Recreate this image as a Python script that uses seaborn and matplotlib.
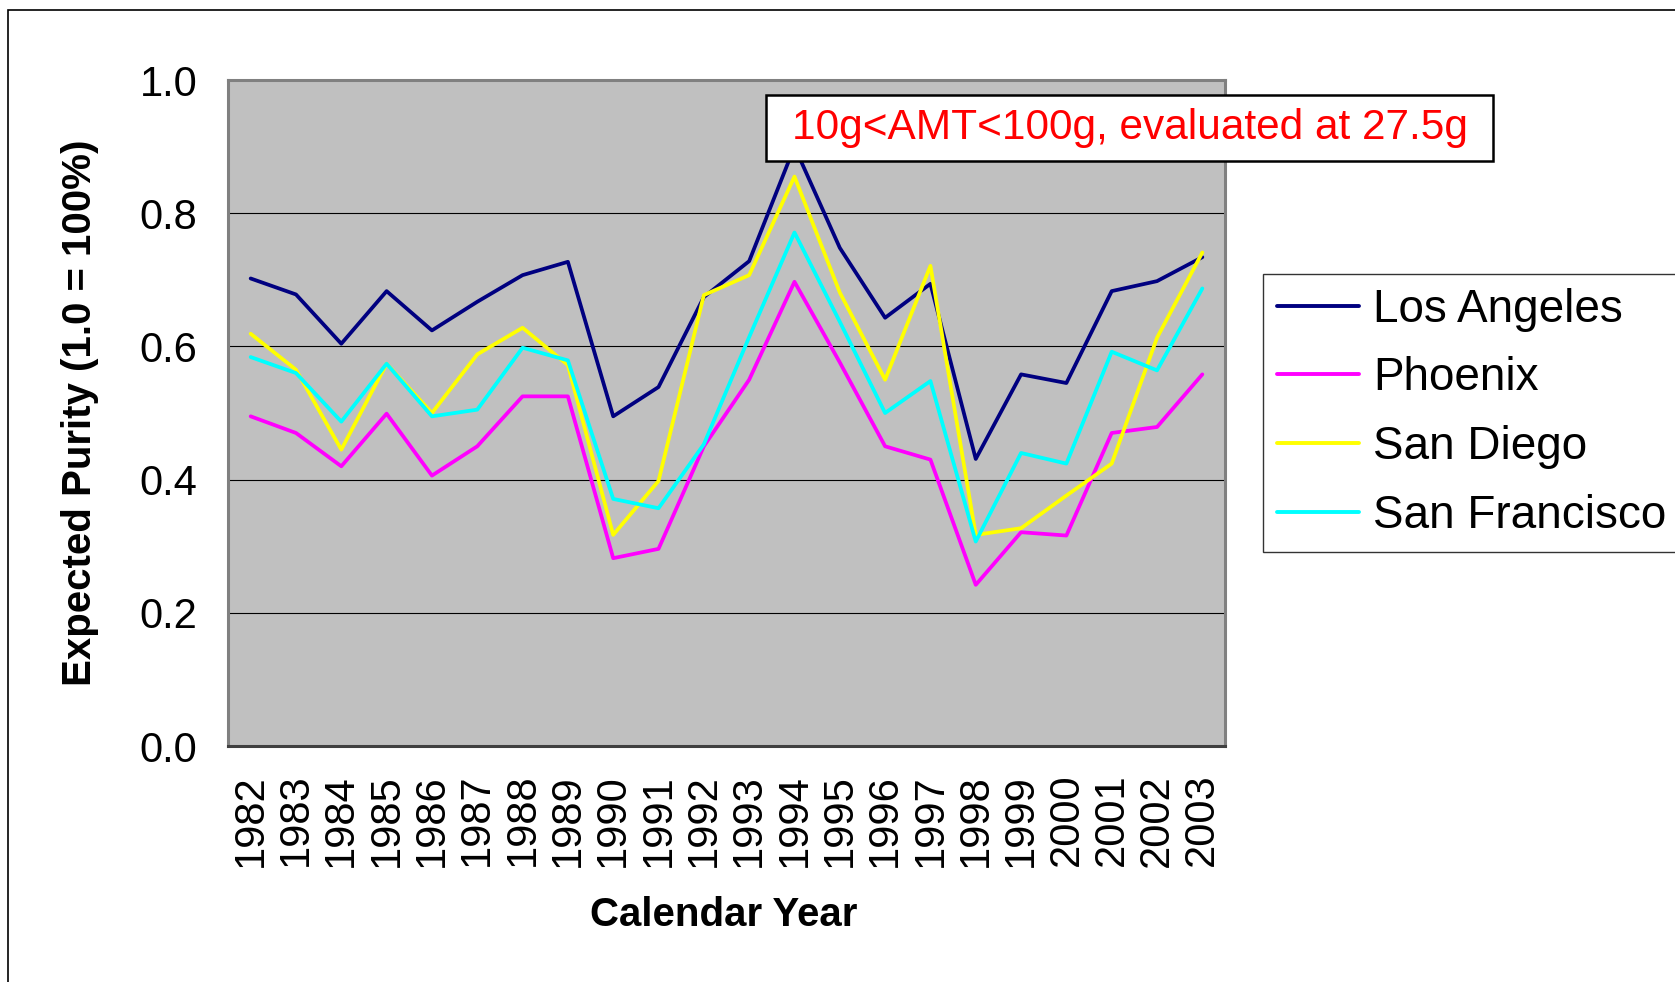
import matplotlib
matplotlib.use("Agg")
import matplotlib.pyplot as plt
from matplotlib.patches import Rectangle
import numpy as np
import pandas as pd
import seaborn as sns

years = [str(y) for y in range(1982, 2004)]
cities = ["Los Angeles", "Phoenix", "San Diego", "San Francisco"]

los_angeles = [0.702, 0.678, 0.604, 0.683, 0.624, 0.667, 0.707, 0.727, 0.495, 0.539, 0.674,
               0.728, 0.900, 0.748, 0.643, 0.694, 0.431, 0.558, 0.545, 0.683, 0.698, 0.734]
phoenix = [0.495, 0.470, 0.420, 0.499, 0.406, 0.450, 0.525, 0.525, 0.282, 0.296, 0.450,
           0.550, 0.697, 0.576, 0.450, 0.430, 0.242, 0.321, 0.316, 0.470, 0.479, 0.558]
san_diego = [0.619, 0.565, 0.445, 0.574, 0.500, 0.588, 0.628, 0.572, 0.317, 0.398, 0.677,
             0.707, 0.855, 0.681, 0.550, 0.721, 0.317, 0.327, 0.376, 0.424, 0.613, 0.741]
san_francisco = [0.584, 0.560, 0.487, 0.574, 0.495, 0.505, 0.598, 0.579, 0.371, 0.357, 0.453,
                 0.614, 0.771, 0.637, 0.500, 0.548, 0.307, 0.440, 0.424, 0.592, 0.564, 0.687]

y_ticks = [0.0, 0.2, 0.4, 0.6, 0.8, 1.0]
y_tick_labels = ["0.0", "0.2", "0.4", "0.6", "0.8", "1.0"]
note = "10g<AMT<100g, evaluated at 27.5g"

colors = {"Los Angeles": "#000080", "Phoenix": "#FF00FF",
          "San Diego": "#FFFF00", "San Francisco": "#00FFFF"}

series = [los_angeles, phoenix, san_diego, san_francisco]
df = pd.DataFrame({
    "pos": np.tile(np.arange(len(years)), len(cities)),
    "purity": np.concatenate(series),
    "city": np.repeat(cities, len(years)),
})

sns.set_style("white")
plt.rcParams["font.family"] = ["Liberation Sans", "DejaVu Sans"]
plt.rcParams["text.color"] = "black"
plt.rcParams["axes.labelcolor"] = "black"
plt.rcParams["xtick.color"] = "black"
plt.rcParams["ytick.color"] = "black"

W, H = 1675, 982
fig = plt.figure(figsize=(W / 100, H / 100), dpi=100)

# outer chart border
fig.patches.append(Rectangle((8 / W, -0.05), 1.1, 1 - 10 / H + 0.05, transform=fig.transFigure,
                             fill=False, edgecolor="black", linewidth=1.2, zorder=0))

left, right, top, bottom = 228, 1225, 80, 746
ax = fig.add_axes([left / W, 1 - bottom / H, (right - left) / W, (bottom - top) / H])
ax.set_facecolor("#C0C0C0")

sns.lineplot(data=df, x="pos", y="purity", hue="city", hue_order=cities,
             palette=colors, linewidth=2.7, ax=ax, legend=True, zorder=3)

ax.set_xlim(-0.5, len(years) - 0.5)
ax.set_ylim(0, 1.0)
ax.set_yticks(y_ticks)
ax.set_yticklabels(y_tick_labels, fontsize=30)
ax.set_xticks(np.arange(len(years)))
ax.set_xticklabels(years, rotation=90, fontsize=30)
ax.set_xticks(np.arange(len(years) + 1) - 0.5, minor=True)
ax.tick_params(axis="x", which="major", length=0, pad=20)
ax.tick_params(axis="x", which="minor", length=9, width=1.2, color="black", direction="out")
ax.tick_params(axis="y", which="major", length=10, width=1.2, color="black", direction="out", pad=12)

for yv in y_ticks[1:-1]:
    ax.axhline(yv, color="black", linewidth=0.8, zorder=1)

for side in ["top", "right", "left", "bottom"]:
    ax.spines[side].set_visible(True)
    ax.spines[side].set_color("#808080")
    ax.spines[side].set_linewidth(2.2)
ax.spines["bottom"].set_color("#404040")

ax.set_xlabel("Calendar Year", fontsize=29, fontweight="bold")
ax.set_ylabel("Expected Purity (1.0 = 100%)", fontsize=29, fontweight="bold")
ax.xaxis.set_label_coords((724 - left) / (right - left), (bottom - 896) / (bottom - top))
ax.yaxis.set_label_coords((99 - left) / (right - left), 0.5)

handles, labels = ax.get_legend_handles_labels()
for h in handles:
    h.set_linewidth(2.8)
leg = ax.legend(handles, labels, loc="upper left", bbox_to_anchor=(1263 / W, 1 - 274 / H),
                bbox_transform=fig.transFigure, fontsize=33, frameon=True, fancybox=False,
                edgecolor="black", handlelength=1.8, handletextpad=0.3, labelspacing=0.54,
                borderpad=0.3, borderaxespad=0)
leg.get_frame().set_linewidth(1.0)

# annotation box
bx0, bx1, by0, by1 = 766, 1493, 95, 161
fig.patches.append(Rectangle((bx0 / W, 1 - by1 / H), (bx1 - bx0) / W, (by1 - by0) / H,
                             transform=fig.transFigure, facecolor="white", edgecolor="black",
                             linewidth=1.8, zorder=5))
fig.text((bx0 + bx1) / 2 / W, 1 - (by0 + by1) / 2 / H, note, color="red", fontsize=30.5,
         ha="center", va="center", zorder=6)

fig.savefig("out.png", dpi=100, facecolor="white")
